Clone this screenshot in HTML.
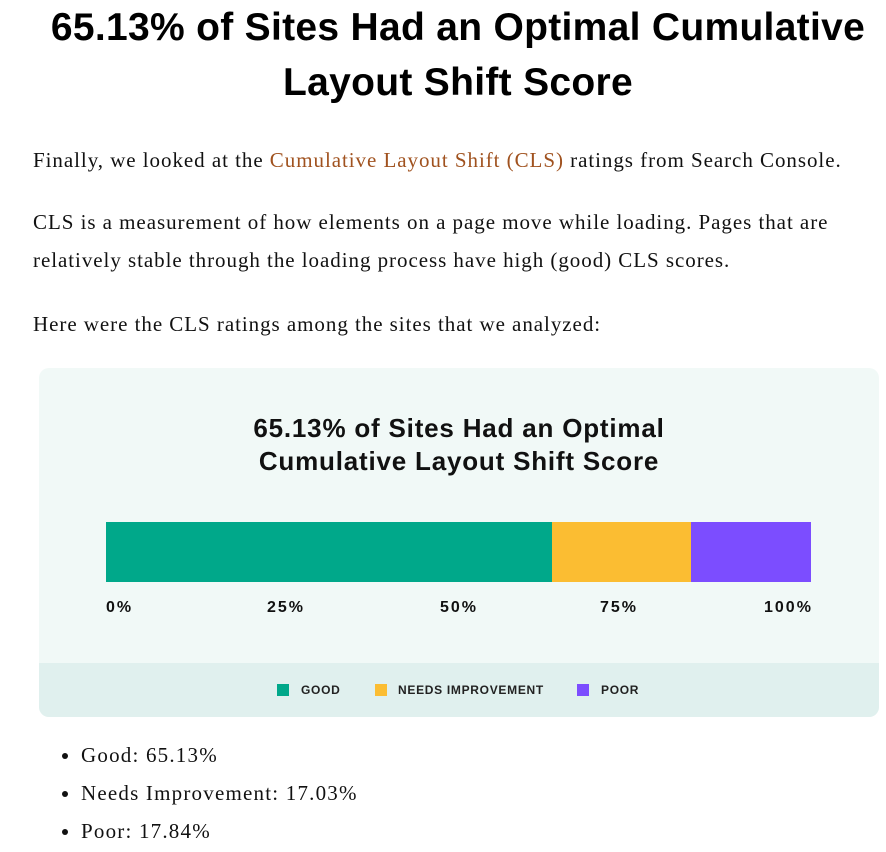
<!DOCTYPE html>
<html><head><style>
body{margin:0;width:886px;height:852px;background:#fff;position:relative;overflow:hidden;font-family:"Liberation Serif",serif;color:#111}
h1{position:absolute;left:0;width:916px;top:0px;margin:0;text-align:center;font:bold 39px/55px "Liberation Sans",sans-serif;letter-spacing:0.3px;color:#000}
p{position:absolute;left:33px;margin:0;font-size:21px;line-height:38px;letter-spacing:0.95px}
a{color:#a0521f;text-decoration:none}
.box{position:absolute;left:39px;top:368px;width:840px;height:349px;background:#f1f9f7;border-radius:10px;overflow:hidden}
.leg{position:absolute;left:0;top:295px;width:840px;height:54px;background:#e0f0ee}
.ct{position:absolute;left:0;width:840px;top:44px;text-align:center;font:bold 26px/33px "Liberation Sans",sans-serif;letter-spacing:0.8px;color:#111}
.tk{position:absolute;top:231px;font:bold 16px "Liberation Sans",sans-serif;letter-spacing:2px;color:#111}
.sq{position:absolute;top:316px;width:12px;height:12px}
.lt{position:absolute;top:315px;font:bold 12px "Liberation Sans",sans-serif;color:#222;letter-spacing:.7px}
ul{position:absolute;left:33px;top:736px;margin:0;padding-left:48px;font-size:21px;line-height:38px;letter-spacing:1.2px}
</style></head><body>
<h1>65.13% of Sites Had an Optimal Cumulative<br>Layout Shift Score</h1>
<p style="top:141px">Finally, we looked at the <a>Cumulative Layout Shift (CLS)</a> ratings from Search Console.</p>
<p style="top:203px">CLS is a measurement of how elements on a page move while loading. Pages that are<br>relatively stable through the loading process have high (good) CLS scores.</p>
<p style="top:305px">Here were the CLS ratings among the sites that we analyzed:</p>
<div class="box">
<div class="ct">65.13% of Sites Had an Optimal<br>Cumulative Layout Shift Score</div>
<div style="position:absolute;left:67px;top:154px;width:446px;height:60px;background:#00a88a"></div>
<div style="position:absolute;left:513px;top:154px;width:139px;height:60px;background:#fbbd32"></div>
<div style="position:absolute;left:652px;top:154px;width:120px;height:60px;background:#7c4dff"></div>
<div class="tk" style="left:67px">0%</div>
<div class="tk" style="left:228px">25%</div>
<div class="tk" style="left:401px">50%</div>
<div class="tk" style="left:561px">75%</div>
<div class="tk" style="left:725px">100%</div>
<div class="leg"></div>
<div class="sq" style="left:238px;background:#00a88a"></div><div class="lt" style="left:262px">GOOD</div>
<div class="sq" style="left:336px;background:#fbbd32"></div><div class="lt" style="left:359px">NEEDS IMPROVEMENT</div>
<div class="sq" style="left:538px;background:#7c4dff"></div><div class="lt" style="left:562px">POOR</div>
</div>
<ul><li>Good: 65.13%</li><li>Needs Improvement: 17.03%</li><li>Poor: 17.84%</li></ul>
</body></html>
